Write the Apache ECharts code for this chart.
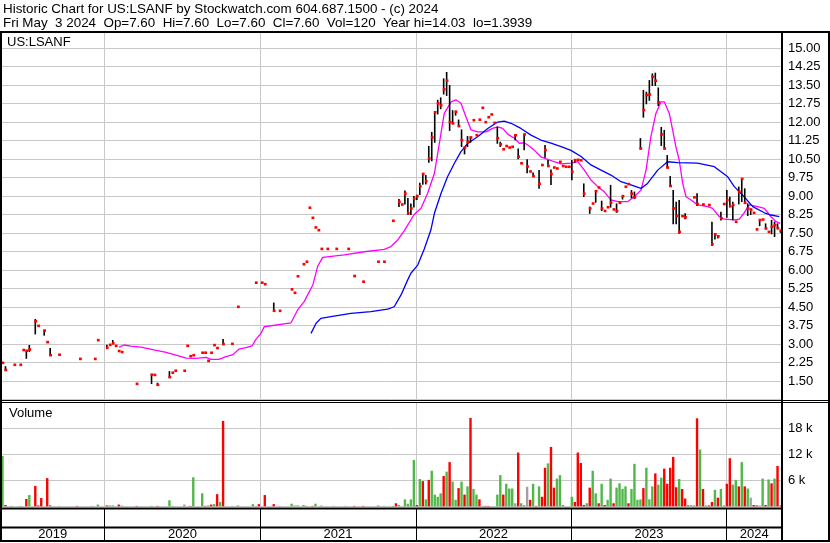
<!DOCTYPE html>
<html>
<head>
<meta charset="utf-8">
<title>US:LSANF historic chart</title>
<script src="https://cdn.jsdelivr.net/npm/echarts@6/dist/echarts.min.js"></script>
<style>
  html, body { margin: 0; padding: 0; background: #fff; }
  #chart { width: 830px; height: 543px; }
</style>
</head>
<body>
<div id="chart"></div>
<script>
// one slot per week, counted from Fri 3 May 2019 up to Fri 3 May 2024
const startDate = Date.UTC(2019, 4, 3)
const weekSlots = 262
const years = [2019, 2020, 2021, 2022, 2023, 2024]

// weekly price bars: week number, low, high, close
const barWeek = [
  0, 1, 4, 6, 7, 8, 9, 11, 12, 14,
  15, 16, 19, 26, 31, 32, 35, 36, 37, 38,
  39, 40, 45, 50, 51, 52, 56, 57, 58, 61,
  62, 63, 64, 67, 68, 69, 70, 71, 72, 74,
  77, 79, 85, 87, 88, 91, 93, 97, 98, 99,
  101, 102, 103, 104, 105, 106, 107, 109, 112, 116,
  118, 121, 126, 128, 131, 133, 134, 135, 136, 137,
  138, 139, 140, 141, 142, 143, 144, 145, 146, 147,
  148, 149, 150, 151, 152, 153, 154, 155, 156, 157,
  158, 159, 160, 161, 162, 163, 164, 165, 166, 167,
  168, 169, 170, 171, 172, 173, 174, 175, 176, 177,
  178, 180, 181, 182, 183, 184, 185, 186, 187, 188,
  189, 190, 191, 192, 193, 194, 195, 197, 198, 199,
  200, 201, 202, 203, 204, 205, 206, 207, 208, 209,
  210, 211, 212, 214, 215, 216, 217, 218, 219, 220,
  221, 222, 223, 224, 225, 226, 227, 228, 229, 232,
  233, 235, 237, 238, 239, 240, 241, 242, 243, 244,
  245, 246, 247, 248, 249, 250, 251, 252, 253, 254,
  255, 256, 257, 258, 259, 260, 261
]
const barLo = [
  2.24, 1.95, 2.16, 2.16, 2.76, 2.44, 2.72, 3.43, 3.74, 3.38,
  3.08, 2.55, 2.57, 2.40, 2.40, 3.16, 2.85, 2.97, 3.03, 2.93,
  2.72, 2.68, 1.39, 1.42, 1.75, 1.35, 1.66, 1.84, 1.92, 1.92,
  2.93, 2.51, 2.55, 2.65, 2.65, 2.32, 2.65, 2.96, 2.84, 3.00,
  3.01, 4.51, 5.49, 5.49, 5.43, 4.35, 4.35, 5.22, 5.08, 5.75,
  6.24, 6.34, 8.53, 8.12, 7.73, 7.62, 6.86, 6.86, 6.86, 6.86,
  5.76, 5.53, 6.34, 6.34, 8.00, 8.60, 8.66, 8.70, 8.27, 8.27,
  8.57, 8.88, 9.08, 9.50, 9.51, 10.39, 10.45, 11.20, 12.35, 12.56,
  13.16, 13.10, 11.68, 11.95, 12.30, 11.84, 11.03, 10.73, 11.03, 11.20,
  12.08, 11.47, 12.10, 12.58, 12.00, 12.20, 12.31, 11.97, 11.16, 11.03,
  10.90, 11.03, 10.97, 11.00, 11.30, 10.53, 10.33, 10.90, 9.96, 10.00,
  9.81, 9.34, 10.26, 10.59, 10.22, 9.49, 10.16, 10.12, 10.39, 10.22,
  10.19, 10.19, 9.68, 10.40, 10.47, 10.45, 9.00, 8.32, 8.70, 8.77,
  9.35, 8.43, 8.40, 8.55, 8.57, 8.46, 8.36, 8.73, 8.90, 9.38,
  9.49, 8.95, 8.92, 10.93, 12.22, 12.76, 12.90, 13.50, 13.50, 12.69,
  11.07, 10.93, 10.16, 9.41, 7.90, 7.90, 7.51, 8.19, 8.10, 8.95,
  8.64, 8.66, 8.64, 7.01, 7.28, 7.32, 8.05, 8.68, 8.16, 8.59,
  8.06, 7.96, 8.70, 8.80, 8.73, 8.23, 8.27, 8.32, 7.65, 7.82,
  8.05, 7.69, 7.55, 7.49, 7.38, 7.69, 7.55
]
const barHi = [
  2.24, 2.10, 2.16, 2.16, 2.76, 2.73, 2.96, 4.01, 3.74, 3.57,
  3.08, 2.84, 2.57, 2.40, 2.40, 3.16, 2.97, 2.97, 3.16, 2.93,
  2.72, 2.68, 1.39, 1.78, 1.75, 1.43, 1.90, 1.84, 1.92, 1.92,
  2.93, 2.51, 2.55, 2.65, 2.65, 2.32, 2.65, 2.96, 2.84, 3.20,
  3.01, 4.51, 5.49, 5.49, 5.43, 4.68, 4.35, 5.22, 5.08, 5.75,
  6.24, 6.34, 8.53, 8.12, 7.73, 7.62, 6.86, 6.86, 6.86, 6.86,
  5.76, 5.53, 6.34, 6.34, 8.00, 8.88, 8.66, 9.22, 8.92, 8.70,
  9.00, 9.05, 9.54, 9.92, 9.85, 11.03, 11.60, 12.42, 12.90, 13.00,
  13.77, 14.03, 13.50, 12.48, 12.46, 12.10, 11.70, 11.00, 11.43, 11.40,
  12.08, 11.47, 12.10, 12.58, 12.00, 12.20, 12.31, 11.97, 11.81, 11.20,
  10.90, 11.03, 10.97, 11.00, 11.50, 10.93, 10.33, 11.51, 10.49, 10.00,
  9.95, 10.05, 10.26, 11.07, 10.46, 10.08, 10.16, 10.12, 10.39, 10.22,
  10.19, 10.19, 10.46, 10.50, 10.47, 10.45, 9.51, 8.57, 8.70, 9.20,
  9.35, 8.81, 8.40, 8.55, 9.45, 8.46, 8.70, 8.73, 9.00, 9.38,
  9.49, 9.24, 9.18, 11.35, 13.30, 13.23, 13.70, 13.97, 14.00, 13.40,
  11.80, 11.68, 10.66, 9.81, 9.24, 8.77, 8.84, 8.19, 8.30, 8.95,
  9.11, 8.66, 8.64, 7.96, 7.49, 7.37, 8.36, 8.68, 9.24, 8.97,
  8.77, 7.96, 9.38, 9.72, 9.31, 8.70, 8.50, 8.32, 7.65, 8.06,
  8.05, 7.89, 7.55, 8.03, 7.96, 7.89, 7.60
]
const barCl = [
  2.24, 1.95, 2.16, 2.16, 2.76, 2.73, 2.78, 3.93, 3.74, 3.55,
  3.08, 2.55, 2.57, 2.40, 2.40, 3.16, 2.85, 2.97, 3.03, 2.93,
  2.72, 2.68, 1.39, 1.76, 1.75, 1.35, 1.66, 1.84, 1.92, 1.92,
  2.93, 2.51, 2.55, 2.65, 2.65, 2.32, 2.65, 2.96, 2.84, 3.00,
  3.01, 4.51, 5.49, 5.49, 5.43, 4.35, 4.35, 5.22, 5.08, 5.75,
  6.24, 6.34, 8.53, 8.12, 7.73, 7.62, 6.86, 6.86, 6.86, 6.86,
  5.76, 5.53, 6.34, 6.34, 8.00, 8.77, 8.66, 9.10, 8.30, 8.50,
  8.90, 9.00, 9.40, 9.90, 9.60, 10.53, 11.38, 12.40, 12.76, 12.68,
  13.33, 13.68, 12.00, 11.95, 12.42, 11.84, 11.27, 10.97, 11.20, 11.38,
  12.08, 11.47, 12.10, 12.58, 12.00, 12.20, 12.31, 11.97, 11.35, 11.10,
  10.90, 11.03, 10.97, 11.00, 11.47, 10.60, 10.33, 11.50, 10.20, 10.00,
  9.81, 9.50, 10.26, 10.87, 10.22, 9.90, 10.16, 10.12, 10.39, 10.22,
  10.19, 10.19, 9.99, 10.46, 10.47, 10.45, 9.10, 8.50, 8.70, 9.20,
  9.35, 8.50, 8.40, 8.55, 8.73, 8.46, 8.40, 8.73, 9.00, 9.38,
  9.49, 9.10, 8.95, 10.93, 12.49, 13.10, 13.12, 13.84, 13.68, 12.80,
  11.50, 10.93, 10.16, 9.41, 8.50, 8.20, 7.55, 8.19, 8.14, 8.95,
  8.68, 8.66, 8.64, 7.05, 7.45, 7.37, 8.10, 8.68, 8.84, 8.59,
  8.64, 7.96, 9.18, 9.70, 8.73, 8.50, 8.45, 8.32, 7.65, 8.03,
  8.05, 7.69, 7.55, 7.76, 7.82, 7.70, 7.60
]

// weekly volume (shares) and direction: 1 up, -1 down, 0 unchanged
const volWeek = [
  0, 1, 3, 6, 8, 9, 11, 12, 13, 15,
  16, 19, 25, 30, 32, 35, 36, 37, 39, 40,
  45, 50, 52, 56, 57, 61, 63, 64, 67, 68,
  69, 70, 71, 72, 73, 74, 77, 79, 84, 85,
  86, 88, 91, 93, 97, 98, 99, 101, 102, 104,
  105, 107, 111, 115, 118, 121, 126, 128, 131, 132,
  133, 135, 136, 137, 138, 139, 140, 141, 142, 143,
  144, 145, 146, 147, 148, 149, 150, 151, 152, 153,
  154, 155, 156, 157, 158, 159, 160, 161, 162, 163,
  166, 167, 168, 169, 170, 171, 172, 173, 174, 175,
  176, 177, 178, 179, 180, 181, 182, 183, 184, 185,
  186, 187, 188, 191, 192, 193, 194, 195, 196, 197,
  198, 199, 200, 201, 202, 203, 204, 205, 206, 207,
  208, 209, 210, 211, 212, 213, 214, 215, 216, 217,
  218, 219, 220, 221, 222, 223, 224, 225, 226, 227,
  228, 229, 230, 231, 232, 233, 234, 235, 236, 237,
  238, 239, 240, 241, 242, 243, 244, 245, 246, 247,
  248, 249, 250, 251, 252, 253, 254, 255, 256, 257,
  258, 259, 260, 261
]
const volAmount = [
  11600, 300, 100, 100, 1700, 2600, 4700, 200, 1900, 6500,
  300, 100, 100, 100, 400, 200, 200, 200, 400, 200,
  100, 100, 100, 1400, 100, 400, 100, 6700, 3000, 100,
  200, 400, 500, 2800, 1000, 19700, 100, 200, 500, 100,
  500, 2600, 500, 100, 600, 200, 200, 300, 100, 100,
  600, 200, 100, 100, 100, 100, 200, 100, 100, 700,
  300, 1600, 600, 1600, 10700, 300, 6300, 5800, 1600, 6100,
  8200, 2700, 2200, 3000, 7000, 8000, 10200, 5700, 1500, 4200,
  5700, 2700, 4600, 20400, 4000, 2700, 1600, 100, 100, 100,
  2700, 7200, 2700, 5200, 4100, 4100, 700, 12400, 700, 300,
  4500, 1500, 5200, 100, 4600, 2200, 8900, 9900, 13700, 4300,
  6400, 7200, 300, 2200, 1000, 12400, 10000, 300, 700, 4300,
  8200, 3000, 700, 5200, 300, 1500, 6400, 700, 4300, 5300,
  4000, 4600, 700, 4000, 9800, 1500, 1600, 4200, 8900, 1600,
  4600, 7600, 5000, 6600, 8700, 5200, 8900, 11400, 4400, 6300,
  4000, 1800, 300, 300, 200, 20300, 13100, 4000, 200, 200,
  1000, 3800, 2000, 4000, 200, 5200, 11100, 5000, 6100, 4600,
  10200, 4600, 4100, 2000, 300, 200, 200, 6400, 300, 6200,
  5300, 6400, 9300, 200
]
const volDir = [
  1, -1, 1, 1, -1, 1, -1, -1, -1, -1,
  1, 0, -1, 0, 1, -1, 1, 1, -1, 0,
  -1, 1, -1, 1, 1, 0, -1, 1, 1, -1,
  1, -1, 1, -1, 1, -1, 0, 1, 1, 0,
  -1, -1, -1, 0, 1, 0, 1, 1, 1, -1,
  1, 0, 0, 0, -1, -1, 1, 0, 1, -1,
  1, 1, 1, 1, 1, -1, 1, -1, 1, -1,
  1, 1, 1, 1, -1, 1, -1, 1, 1, -1,
  1, -1, 1, -1, 1, 1, -1, 0, -1, -1,
  1, 1, -1, 1, 1, 1, 0, -1, 1, 0,
  0, -1, 1, -1, 1, -1, -1, 1, -1, -1,
  1, 1, 1, 1, -1, -1, -1, -1, 1, -1,
  1, 1, -1, 1, -1, 1, 1, -1, 1, 1,
  1, 1, -1, 1, 1, 1, 1, -1, 1, 1,
  1, -1, 1, 1, -1, -1, -1, -1, -1, 1,
  -1, -1, 1, 0, 1, -1, 1, -1, 1, -1,
  -1, 1, -1, 1, 1, -1, -1, 1, 1, -1,
  1, -1, 1, 0, -1, -1, 0, 1, -1, 1,
  -1, 1, -1, -1
]

// moving averages (week number, price)
const maFastWeek = [
  39.6, 41.3, 43.6, 47, 51.3, 55.4, 58.7, 62.1, 65.4, 68.8,
  70.4, 73.1, 75.5, 77.8, 79.8, 82.2, 84.2, 85.5, 87.2, 88.3,
  97.3, 99.5, 101.7, 104.6, 106.2, 107.9, 115.2, 121.9, 128.6, 130.8,
  133.1, 135.3, 138.6, 140.9, 143.1, 145.4, 147.6, 148.7, 151, 152.6,
  154.3, 156, 157.7, 159.9, 162.7, 164.9, 166.6, 168.3, 170, 172.2,
  173.9, 175.5, 177.2, 178.9, 181.1, 183.4, 185.6, 187.9, 191.2, 193.5,
  195.7, 197.9, 200.2, 202.4, 204.6, 206.9, 210.2, 212.4, 214.7, 216.4,
  218, 219.7, 221.4, 222.5, 224.2, 225.3, 226.4, 227.5, 228.7, 229.8,
  231.5, 233.7, 237.1, 238.7, 241, 242.6, 246, 247.7, 249.3, 251,
  253.8, 256.1, 258.3, 260, 261.4
]
const maFast = [
  2.87, 2.96, 2.91, 2.87, 2.76, 2.66, 2.55, 2.43, 2.42, 2.46,
  2.38, 2.38, 2.49, 2.57, 2.79, 2.85, 2.92, 3.19, 3.43, 3.70,
  3.86, 4.38, 4.72, 5.39, 6.14, 6.51, 6.61, 6.74, 6.84, 6.95,
  7.22, 7.60, 8.25, 8.50, 9.10, 9.92, 11.54, 12.35, 12.82, 12.90,
  12.76, 12.20, 11.68, 11.60, 11.60, 11.74, 11.80, 11.74, 11.51, 11.34,
  11.14, 11.16, 11.03, 10.86, 10.59, 10.49, 10.39, 10.30, 10.33, 10.39,
  10.05, 9.65, 9.38, 9.17, 8.84, 8.77, 8.77, 8.97, 9.24, 10.05,
  11.40, 12.35, 12.82, 12.82, 12.35, 11.68, 11.00, 10.46, 9.51, 8.97,
  8.84, 8.64, 8.57, 8.50, 8.16, 8.06, 8.03, 8.06, 8.32, 8.64,
  8.57, 8.50, 8.16, 7.96, 7.89
]
const maSlowWeek = [
  104, 105.7, 107.3, 110.7, 117.4, 124.1, 129.7, 131.9, 134.2, 136.4,
  137.5, 139.8, 142, 144.2, 145.4, 147.6, 149.8, 152.1, 154.3, 156.6,
  159.9, 163.3, 166.6, 168.8, 171.1, 174.4, 177.8, 181.1, 184.5, 187.9,
  191.2, 194.6, 197.9, 201.3, 204.6, 208, 211.3, 214.7, 216.9, 220.3,
  223.6, 227, 233.7, 239.3, 243.8, 246, 249.3, 252.2, 256.1, 258.3,
  261.1
]
const maSlow = [
  3.43, 3.84, 4.04, 4.11, 4.24, 4.31, 4.41, 4.51, 4.99, 5.59,
  5.87, 6.20, 6.85, 7.62, 8.30, 9.10, 9.78, 10.33, 10.80, 11.14,
  11.40, 11.74, 12.00, 12.04, 11.95, 11.74, 11.47, 11.27, 11.14, 11.00,
  10.85, 10.60, 10.26, 10.05, 9.85, 9.58, 9.45, 9.31, 9.51, 10.05,
  10.39, 10.35, 10.33, 10.19, 9.78, 9.38, 8.97, 8.57, 8.32, 8.23,
  8.16
]

const font = "'Liberation Sans', Arial, sans-serif"
const gridColor = '#c8c8c8'
const dirColor = { '1': '#50b848', '-1': '#ff0000', '0': '#a0a0a0' }

// year boundaries in weeks from the start date
const weekMs = 7 * 864e5
const yearEdges = years.map((y, i) => i === 0 ? 0 : (Date.UTC(y, 0, 1) - startDate) / weekMs)
yearEdges.push(weekSlots)

function yearLines(color) {
  return {
    silent: true, symbol: 'none', z: 1,
    label: { show: false },
    emphasis: { disabled: true },
    lineStyle: { color: color, width: 1, type: 'solid' },
    data: yearEdges.slice(1, -1).map(x => ({ xAxis: x }))
  }
}

const chart = echarts.init(document.getElementById('chart'))

const grids = [
  { left: 1, top: 32, width: 781, height: 367.5 },
  { left: 1, top: 402.3, width: 781, height: 104 },
  { left: 1, top: 508.5, width: 781, height: 19 },
  { left: 1, top: 527.5, width: 781, height: 13.5 }
]

const labelStyle = { color: '#000', fontSize: 13, fontFamily: font }

chart.setOption({
  animation: false,
  backgroundColor: '#fff',
  title: [
    {
      text: 'Historic Chart for US:LSANF by Stockwatch.com 604.687.1500 - (c) 2024\n' +
        'Fri May  3 2024  Op=7.60  Hi=7.60  Lo=7.60  Cl=7.60  Vol=120  Year hi=14.03  lo=1.3939',
      left: 3, top: 2, padding: 0,
      textStyle: { fontSize: 13.4, fontWeight: 'normal', fontFamily: font, color: '#000', lineHeight: 14 }
    },
    { text: 'US:LSANF', left: 7, top: 35, padding: 0,
      textStyle: { fontSize: 13, fontWeight: 'normal', fontFamily: font, color: '#000', lineHeight: 14 } },
    { text: 'Volume', left: 9, top: 406, padding: 0,
      textStyle: { fontSize: 13, fontWeight: 'normal', fontFamily: font, color: '#000', lineHeight: 14 } }
  ],
  grid: grids,
  xAxis: grids.map((g, i) => ({ type: 'value', gridIndex: i, min: 0, max: weekSlots, show: false })),
  yAxis: [
    {
      type: 'value', gridIndex: 0, position: 'right',
      min: 0.75, max: 15.65, interval: 0.75,
      axisLine: { show: false }, axisTick: { show: false },
      axisLabel: Object.assign({ margin: 6, formatter: v => (v < 1 || v > 15.01) ? '' : v.toFixed(2) }, labelStyle),
      splitLine: { lineStyle: { color: gridColor, width: 1 } }
    },
    {
      type: 'value', gridIndex: 1, position: 'right',
      min: 0, max: 24000, interval: 6000,
      axisLine: { show: false }, axisTick: { show: false },
      axisLabel: Object.assign({ margin: 6, formatter: v => (v > 0 && v < 24000) ? (v / 1000) + ' k' : '' }, labelStyle),
      splitLine: { lineStyle: { color: gridColor, width: 1 } }
    },
    { type: 'value', gridIndex: 2, min: 0, max: 1, show: false },
    { type: 'value', gridIndex: 3, min: 0, max: 1, show: false }
  ],
  series: [
    {
      name: 'Price',
      type: 'custom',
      xAxisIndex: 0, yAxisIndex: 0,
      z: 3,
      encode: { x: 0, y: [1, 2, 3] },
      data: barWeek.map((w, i) => [w + 0.5, barLo[i], barHi[i], barCl[i]]),
      renderItem: function (params, api) {
        const x = api.value(0)
        const lo = api.coord([x, api.value(1)])
        const hi = api.coord([x, api.value(2)])
        const cl = api.coord([x, api.value(3)])
        const kids = []
        if (lo[1] - hi[1] > 0.5) {
          kids.push({ type: 'line', shape: { x1: lo[0], y1: lo[1] + 1, x2: hi[0], y2: hi[1] },
            style: { stroke: '#000', lineWidth: 1.6 } })
        }
        kids.push({ type: 'rect', shape: { x: cl[0] - 1, y: cl[1] - 1.2, width: 2.8, height: 2.6 },
          style: { fill: '#ff0000' } })
        return { type: 'group', children: kids }
      },
      markLine: yearLines(gridColor)
    },
    {
      name: 'MA fast', type: 'line', xAxisIndex: 0, yAxisIndex: 0, z: 2,
      symbol: 'none', data: maFastWeek.map((w, i) => [w, maFast[i]]),
      lineStyle: { color: '#ff00ff', width: 1.3 }
    },
    {
      name: 'MA slow', type: 'line', xAxisIndex: 0, yAxisIndex: 0, z: 2,
      symbol: 'none', data: maSlowWeek.map((w, i) => [w, maSlow[i]]),
      lineStyle: { color: '#0000ff', width: 1.3 }
    },
    {
      name: 'Volume', type: 'bar', xAxisIndex: 1, yAxisIndex: 1, z: 2,
      barWidth: 2.4,
      data: volWeek.map((w, i) => ({ value: [w + 0.5, volAmount[i]], itemStyle: { color: dirColor[volDir[i]] } })),
      markLine: yearLines(gridColor)
    },
    {
      type: 'line', xAxisIndex: 2, yAxisIndex: 2, symbol: 'none', silent: true,
      data: [[0, 0]], lineStyle: { opacity: 0 },
      markLine: yearLines('#000')
    },
    {
      type: 'line', xAxisIndex: 3, yAxisIndex: 3, symbol: 'none', silent: true,
      data: [[0, 0]], lineStyle: { opacity: 0 },
      markLine: yearLines('#000'),
      markArea: {
        silent: true,
        itemStyle: { color: 'rgba(0,0,0,0)' },
        label: Object.assign({ show: true, position: 'inside' }, labelStyle),
        data: years.map((y, i) => [{ name: String(y), xAxis: yearEdges[i] }, { xAxis: yearEdges[i + 1] }])
      }
    }
  ],
  graphic: [
    { type: 'rect', z: 100, silent: true, shape: { x: 1, y: 32, width: 828, height: 509 },
      style: { fill: null, stroke: '#000', lineWidth: 2 } },
    { type: 'line', z: 100, silent: true, shape: { x1: 782, y1: 32, x2: 782, y2: 541 },
      style: { stroke: '#000', lineWidth: 2 } },
    { type: 'line', z: 100, silent: true, shape: { x1: 0, y1: 400.5, x2: 830, y2: 400.5 },
      style: { stroke: '#000', lineWidth: 1 } },
    { type: 'line', z: 100, silent: true, shape: { x1: 0, y1: 402.5, x2: 830, y2: 402.5 },
      style: { stroke: '#000', lineWidth: 1 } },
    { type: 'line', z: 100, silent: true, shape: { x1: 0, y1: 508.5, x2: 782, y2: 508.5 },
      style: { stroke: '#000', lineWidth: 2 } },
    { type: 'line', z: 100, silent: true, shape: { x1: 0, y1: 527.5, x2: 782, y2: 527.5 },
      style: { stroke: '#000', lineWidth: 2 } }
  ]
})
</script>
</body>
</html>
